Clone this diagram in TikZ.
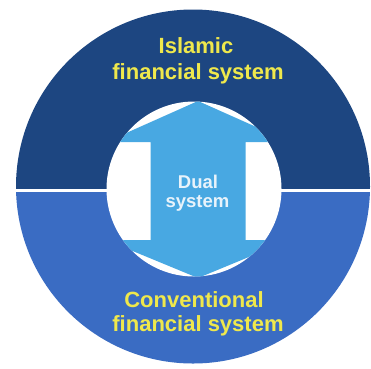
\documentclass[tikz,border=0pt]{standalone}
\usepackage{fontspec}
\setmainfont{Liberation Sans}
\definecolor{topblue}{HTML}{1D4681}
\definecolor{lowblue}{HTML}{3A6CC3}
\definecolor{arrowblue}{HTML}{48A8E2}
\definecolor{labyellow}{HTML}{EFE84C}
\definecolor{dualwhite}{HTML}{E8F3FB}
\tikzset{
  outerlabel/.style={anchor=base, inner sep=0pt, text=labyellow, font=\fontsize{22}{26}\selectfont\bfseries},
  duallabel/.style={anchor=base, inner sep=0pt, text=dualwhite, font=\fontsize{18.5}{21}\selectfont\bfseries}
}
\begin{document}
\begin{tikzpicture}[x=1pt,y=-1pt]
\useasboundingbox (0,0) rectangle (371,368);
\fill[white] (0,0) rectangle (371,368);
% outer ring halves
\begin{scope}
  \clip (0,0) rectangle (371,190.5);
  \fill[topblue] (193,186.5) circle (177);
\end{scope}
\begin{scope}
  \clip (0,190.5) rectangle (371,368);
  \fill[lowblue] (193,186.5) circle (177);
\end{scope}
\draw[white, line width=3.2pt] (10,190.5) -- (371,190.5);
% inner white circle
\fill[white] (194,189) circle (87.5);
% double arrow clipped to inner circle
\begin{scope}
  \clip (194,189) circle (87.5);
  \fill[arrowblue] (198,101) -- (290,142) -- (245.7,142) -- (245.7,240) -- (290,240)
     -- (198,278) -- (106,240) -- (150.7,240) -- (150.7,142) -- (106,142) -- cycle;
\end{scope}
% labels
\node[outerlabel] (isl1) at (196,53) {Islamic};
\node[outerlabel] (isl2) at (198,79) {financial system};
\node[outerlabel] (con1) at (194,307) {Conventional};
\node[outerlabel] (con2) at (198,331) {financial system};
\node[duallabel] (dual1) at (198,188) {Dual};
\node[duallabel] (dual2) at (197.5,207) {system};
\end{tikzpicture}
\end{document}
